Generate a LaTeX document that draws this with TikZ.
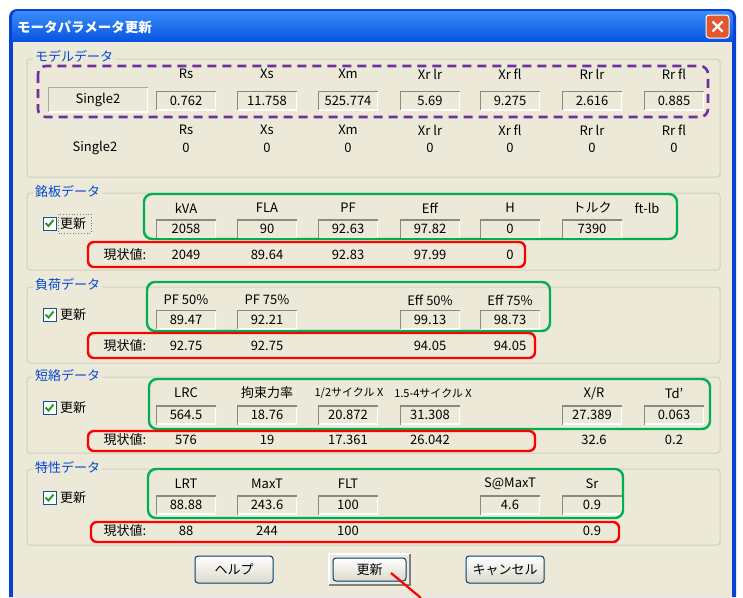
\documentclass[tikz,border=0pt]{standalone}
\usepackage{fontspec}
\setmainfont{Noto Sans CJK JP}
\usetikzlibrary{calc}
\definecolor{client}{HTML}{ECE9D8}
\definecolor{winblue}{HTML}{0842D2}
\definecolor{titletop}{HTML}{3A8DF9}
\definecolor{titlebot}{HTML}{0553E1}
\definecolor{grpline}{HTML}{D0D0BF}
\definecolor{grptext}{HTML}{0046D5}
\definecolor{boxdark}{HTML}{8A8A84}
\definecolor{sboxdark}{HTML}{AAA8A0}
\definecolor{mypurple}{HTML}{7030A0}
\definecolor{mygreen}{HTML}{00B050}
\definecolor{myred}{HTML}{FF0000}
\definecolor{btnborder}{HTML}{003C74}
\definecolor{chkborder}{HTML}{1C5180}
\definecolor{chkgreen}{HTML}{21A121}
\definecolor{closered}{HTML}{E2572E}
\newcommand\uifont{\fontsize{13}{15}\selectfont}
\newcommand\uismall{\fontsize{11}{13}\selectfont}
\begin{document}
\begin{tikzpicture}[x=1pt,y=-1pt,
  lbl/.style={inner sep=0pt, font=\uifont, text=black},
  grplabel/.style={anchor=west, inner sep=2pt, fill=client, font=\uifont, text=grptext},
  grpframe/.style={draw=grpline, line width=1pt, rounded corners=3pt},
  ebox/.style={minimum width=60pt, minimum height=19pt, inner sep=0pt, font=\uifont,
    path picture={
      \draw[white, line width=2.4pt] (path picture bounding box.north east) -- (path picture bounding box.south east) -- (path picture bounding box.south west);
      \draw[boxdark, line width=2.4pt] (path picture bounding box.south west) -- (path picture bounding box.north west) -- (path picture bounding box.north east);}},
  sbox/.style={minimum width=100pt, minimum height=25pt, inner sep=0pt, font=\uifont,
    path picture={
      \draw[white, line width=2.4pt] (path picture bounding box.north east) -- (path picture bounding box.south east) -- (path picture bounding box.south west);
      \draw[sboxdark, line width=2pt] (path picture bounding box.south west) -- (path picture bounding box.north west) -- (path picture bounding box.north east);}},
  purplebox/.style={draw=mypurple, line width=2.6pt, dash pattern=on 9pt off 6pt, rounded corners=8pt},
  greenbox/.style={draw=mygreen, line width=2.4pt, rounded corners=8pt},
  redbox/.style={draw=myred, line width=2.4pt, rounded corners=6pt},
  chkbox/.style={draw=chkborder, fill=white, line width=1pt, minimum size=13pt, inner sep=0pt},
  chkmark/.style={draw=chkgreen, line width=2pt},
  btn/.style={draw=btnborder, line width=1pt, rounded corners=3pt, top color=white, bottom color=client!85!gray,
    minimum width=78pt, minimum height=27pt, inner sep=0pt, font=\uifont},
]
\useasboundingbox (0,0) rectangle (743,597);
\fill[white] (0,0) rectangle (743,597);
% window
\fill[winblue] (9,597) [rounded corners=8pt] -- (9,9) -- (736,9) [sharp corners] -- (736,597) -- cycle;
\shade[top color=titletop, bottom color=titlebot] (12,42) [rounded corners=6pt] -- (12,11) -- (733,11) [sharp corners] -- (733,42) -- cycle;
\fill[client] (13,42) rectangle (732,597);
\node[anchor=west, inner sep=0pt, text=white, font=\fontsize{13.5}{15}\selectfont\bfseries] (title) at (17,27) {モータパラメータ更新};
\node[draw=white, line width=1pt, fill=closered, rounded corners=3pt, minimum size=23pt, inner sep=0pt] (close) at (717.5,26.5) {};
\draw[white, line width=2.2pt] ([shift={(-5,-5)}]close.center) -- ([shift={(5,5)}]close.center);
\draw[white, line width=2.2pt] ([shift={(-5,5)}]close.center) -- ([shift={(5,-5)}]close.center);

% ===== group 1: model data
\draw[grpframe] (27,59) rectangle (720,177);
\node[grplabel] (g1) at (33,56) {モデルデータ};
\node[sbox] (m1name) at (98,99.5) {Single2};
\foreach \x/\t [count=\i] in {186/Rs,267/Xs,348/Xm,430/Xr lr,510/Xr fl,592/Rr lr,674/Rr fl}{
  \node[lbl] (mh\i) at (\x,74) {\t};
  \node[lbl] (mk\i) at (\x,130) {\t};
  \node[lbl] (mz\i) at (\x,148) {0};
}
\foreach \x/\v [count=\i] in {186/0.762,267/11.758,348/525.774,430/5.69,510/9.275,592/2.616,674/0.885}{
  \node[ebox] (mb\i) at (\x,100.5) {\v};
}
\node[lbl] (m2name) at (95,148) {Single2};
\draw[purplebox] (38,66) rectangle (708,117);

% ===== group 2: nameplate
\draw[grpframe] (27,193) rectangle (720,270);
\node[grplabel] (g2) at (33,191) {銘板データ};
\node[chkbox] (c2) at (49.5,223.5) {};
\draw[chkmark] ([shift={(-4,-0.5)}]c2.center) -- ++(3,3) -- ++(5,-6);
\node[lbl, anchor=west] (u2) at (60,223.5) {更新};
\draw[gray, dotted, line width=0.8pt] (58,214) rectangle (91,233);
\foreach \x/\t [count=\i] in {186/kVA,267/FLA,348/PF,430/Eff,510/H,592/トルク,647/ft-lb}{
  \node[lbl] (nh\i) at (\x,208) {\t};
}
\foreach \x/\v [count=\i] in {186/2058,267/90,348/92.63,430/97.82,510/0,592/7390}{
  \node[ebox] (nb\i) at (\x,229) {\v};
}
\node[lbl] (ncur) at (125,254.5) {現状値:};
\foreach \x/\v [count=\i] in {186/2049,267/89.64,348/92.83,430/97.99,510/0}{
  \node[lbl] (nv\i) at (\x,254.5) {\v};
}
\draw[greenbox] (144,194) rectangle (677,239);
\draw[redbox] (88,242) rectangle (525,267);

% ===== group 3: load
\draw[grpframe] (27,287) rectangle (720,363);
\node[grplabel] (g3) at (33,285) {負荷データ};
\node[chkbox] (c3) at (49.5,315) {};
\draw[chkmark] ([shift={(-4,-0.5)}]c3.center) -- ++(3,3) -- ++(5,-6);
\node[lbl, anchor=west] (u3) at (60,315) {更新};
\foreach \x/\t [count=\i] in {186/PF 50\%,267/PF 75\%,430/Eff 50\%,510/Eff 75\%}{
  \node[lbl] (lh\i) at (\x,300) {\t};
}
\foreach \x/\v [count=\i] in {186/89.47,267/92.21,430/99.13,510/98.73}{
  \node[ebox] (lb\i) at (\x,319.5) {\v};
}
\node[lbl] (lcur) at (125,346) {現状値:};
\foreach \x/\v [count=\i] in {186/92.75,267/92.75,430/94.05,510/94.05}{
  \node[lbl] (lv\i) at (\x,346) {\v};
}
\draw[greenbox] (147,282) rectangle (550,331);
\draw[redbox] (88,333) rectangle (535,358);

% ===== group 4: short circuit
\draw[grpframe] (27,377) rectangle (720,453);
\node[grplabel] (g4) at (33,375) {短絡データ};
\node[chkbox] (c4) at (49.5,408) {};
\draw[chkmark] ([shift={(-4,-0.5)}]c4.center) -- ++(3,3) -- ++(5,-6);
\node[lbl, anchor=west] (u4) at (60,408) {更新};
\node[lbl] (sh1) at (186,393) {LRC};
\node[lbl] (sh2) at (267,393) {拘束力率};
\node[lbl, font=\uismall] (sh3) at (349,393) {1/2サイクル X};
\node[lbl, font=\uismall] (sh4) at (433,393) {1.5-4サイクル X};
\node[lbl] (sh5) at (594,393) {X/R};
\node[lbl] (sh6) at (674,393) {Td'};
\foreach \x/\v [count=\i] in {186/564.5,267/18.76,348/20.872,430/31.308,592/27.389,674/0.063}{
  \node[ebox] (sb\i) at (\x,415) {\v};
}
\node[lbl] (scur) at (125,440) {現状値:};
\foreach \x/\v [count=\i] in {186/576,267/19,348/17.361,430/26.042,594/32.6,674/0.2}{
  \node[lbl] (sv\i) at (\x,440) {\v};
}
\draw[greenbox] (149,379) rectangle (710,429);
\draw[redbox] (88,431) rectangle (535,451);

% ===== group 5: characteristics
\draw[grpframe] (27,469) rectangle (720,545);
\node[grplabel] (g5) at (33,467) {特性データ};
\node[chkbox] (c5) at (49.5,498) {};
\draw[chkmark] ([shift={(-4,-0.5)}]c5.center) -- ++(3,3) -- ++(5,-6);
\node[lbl, anchor=west] (u5) at (60,498) {更新};
\foreach \x/\t [count=\i] in {186/LRT,267/MaxT,348/FLT,510/S@MaxT,592/Sr}{
  \node[lbl] (ch\i) at (\x,484) {\t};
}
\foreach \x/\v [count=\i] in {186/88.88,267/243.6,348/100,510/4.6,592/0.9}{
  \node[ebox] (cb\i) at (\x,505) {\v};
}
\node[lbl] (ccur) at (125,531) {現状値:};
\foreach \x/\v [count=\i] in {186/88,267/244,348/100,592/0.9}{
  \node[lbl] (cv\i) at (\x,531) {\v};
}
\draw[greenbox] (148,469) rectangle (623,518);
\draw[redbox] (91,522) rectangle (619,542);

% ===== buttons
\node[btn] (help) at (234,569.5) {ヘルプ};
\draw[white, line width=1.2pt] (329,585) -- (329,554) -- (410,554);
\draw[gray, line width=1.5pt] (410,554) -- (410,585) -- (329,585);
\node[btn, minimum width=73pt, minimum height=23pt] (upd) at (369.5,569.5) {更新};
\node[btn] (cancel) at (505,569.5) {キャンセル};

% ===== red pointer
\coordinate (ptrA) at (391,573);
\coordinate (ptrB) at (421,598);
\draw[myred, line width=2.2pt] (ptrA) -- (ptrB);
\end{tikzpicture}
\end{document}
